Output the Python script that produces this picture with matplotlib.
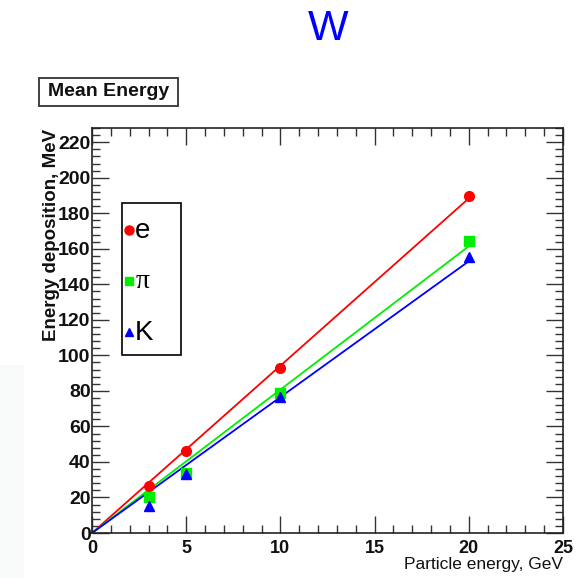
import numpy as np
import matplotlib
matplotlib.use("Agg")
import matplotlib.pyplot as plt
from matplotlib.patches import Rectangle
from matplotlib.ticker import MultipleLocator

plt.rcParams['font.family'] = ['Liberation Sans', 'DejaVu Sans']

# mean energy deposition in W for each particle type
energy = np.array([3, 5, 10, 20])
dep_e = np.array([26.5, 46, 93, 189.5])
dep_pi = np.array([20, 34, 79, 164.5])
dep_k = np.array([15, 33, 76.5, 155.5])

series = [
    ("e", dep_e, "#ff0000", "o", 7),
    ("π", dep_pi, "#00ee00", "s", 6.5),
    ("K", dep_k, "#0000ff", "^", 6.5),
]

W, H = 577, 578
fig = plt.figure(figsize=(W / 100, H / 100), dpi=100)
ax = fig.add_axes([92 / W, 1 - 533 / H, 471 / W, 405 / H])

xfit = np.array([0, 20])
for name, y, col, mk, ms in series:
    # straight line through the origin, least squares
    k = np.sum(energy * y) / np.sum(energy * energy)
    ax.plot(xfit, k * xfit, color=col, lw=1.3, zorder=2)
    ax.plot(energy, y, linestyle="none", marker=mk, color=col, ms=ms,
            mec=col, zorder=3)

ax.set_xlim(0, 25)
ax.set_ylim(0, 228)
ax.xaxis.set_major_locator(MultipleLocator(5))
ax.xaxis.set_minor_locator(MultipleLocator(1))
ax.yaxis.set_major_locator(MultipleLocator(20))
ax.yaxis.set_minor_locator(MultipleLocator(4))
ax.tick_params(which="both", direction="in", top=True, right=True,
               width=1.0, color="#333333")
ax.tick_params(which="major", length=12)
ax.tick_params(which="minor", length=6)
ax.tick_params(axis="y", which="major", pad=1, labelsize=14)
ax.tick_params(axis="x", which="major", pad=5, labelsize=13)
for lab in ax.get_xticklabels() + ax.get_yticklabels():
    lab.set_fontweight("bold")
    lab.set_color("#111111")
for sp in ax.spines.values():
    sp.set_linewidth(1.2)
    sp.set_color("#222222")

fig.text(563 / W, 1 - 569 / H, "Particle energy, GeV", ha="right",
         va="baseline", fontsize=12.5, color="#111111")
fig.text(52 / W, 1 - 129 / H, "Energy deposition, MeV", rotation=90,
         ha="center", va="top", fontsize=13.5, fontweight="bold",
         color="#111111", zorder=0)

fig.text(328.5 / W, 1 - 29 / H, "W", ha="center", va="center",
         fontsize=31, color="#0000ff")

# title box
fig.add_artist(Rectangle((39 / W, 1 - 106 / H), 139 / W, 28 / H,
                         transform=fig.transFigure, fc="white", ec="#333333",
                         lw=1.3))
fig.text(108.5 / W, 1 - 92 / H, "Mean Energy", ha="center", va="center",
         fontsize=14, fontweight="bold", color="#111111")

# legend box drawn by hand
lx0, lx1, ly0, ly1 = 122, 181, 203, 355
fig.add_artist(Rectangle((lx0 / W, 1 - ly1 / H), (lx1 - lx0) / W,
                         (ly1 - ly0) / H, transform=fig.transFigure,
                         fc="white", ec="black", lw=1.2, zorder=5))
rows = [230, 281, 332]
for (name, y, col, mk, ms), ry in zip(series, rows):
    fig.add_artist(plt.Line2D([129 / W], [1 - ry / H], marker=mk,
                              color=col, ms=ms - 0.5, mec=col,
                              transform=fig.transFigure, zorder=6))
    if name == "π":
        fig.text(136 / W, 1 - ry / H, name, ha="left", va="center",
                 fontsize=20, family=['Liberation Serif', 'DejaVu Serif'],
                 zorder=6)
    else:
        fig.text(135 / W, 1 - (ry + 1) / H, name, ha="left", va="center",
                 fontsize=20, zorder=6)

# faint slide background at left edge
fig.add_artist(Rectangle((0, 0), 24 / W, 1 - 365 / H,
                         transform=fig.transFigure, fc="#f8f9f9", ec="none",
                         zorder=0))

fig.savefig("out.png", dpi=100)
